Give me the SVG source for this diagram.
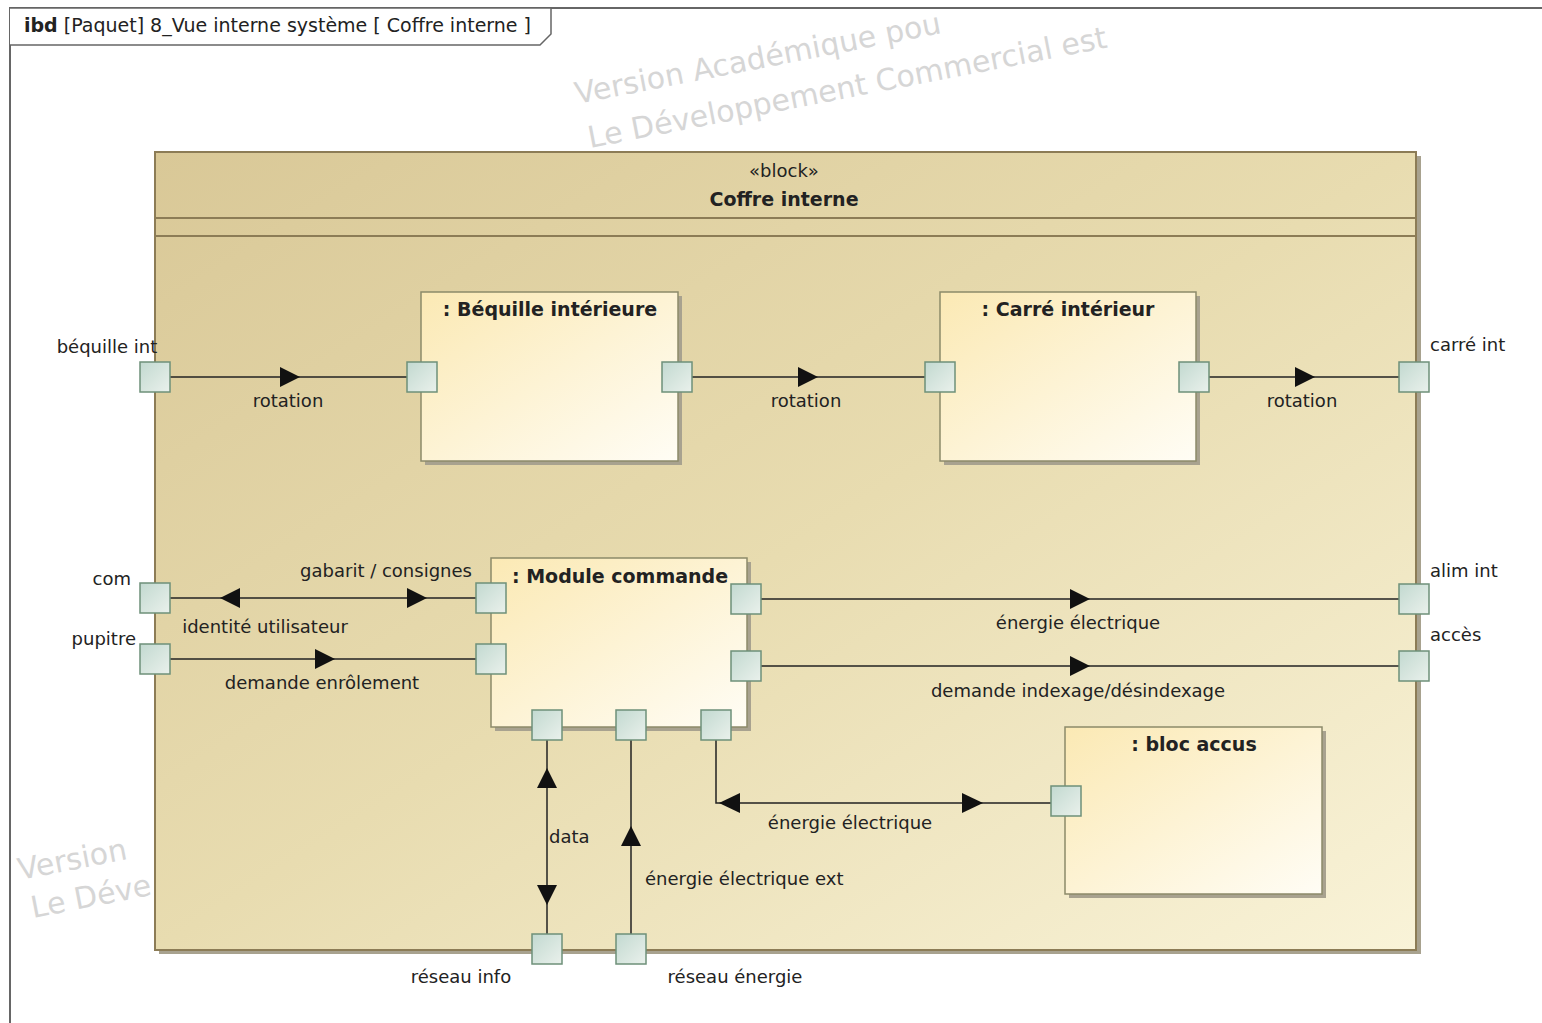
<svg xmlns="http://www.w3.org/2000/svg" width="1542" height="1023" viewBox="0 0 1542 1023">
<style>
.lbl{font-family:"DejaVu Sans",Tahoma,sans-serif;font-size:18px;fill:#222}
.ttl{font-family:"DejaVu Sans",Tahoma,sans-serif;font-size:19px;font-weight:bold;fill:#222}
.wm{font-family:"DejaVu Sans",sans-serif;font-size:30px;fill:#d6d6d6}
.part{fill:url(#gPart);stroke:#8c8a6a;stroke-width:1.5}
.shadow{fill:#a8a28f}
.port{fill:url(#gPort);stroke:#6e9079;stroke-width:1.5}
.conn{fill:none;stroke:#222;stroke-width:1.5}
.ah{fill:#111}
</style>
<defs>
<linearGradient id="gBlock" x1="0" y1="0" x2="1" y2="1">
<stop offset="0" stop-color="#d9c897"/>
<stop offset="0.5" stop-color="#e8dcb0"/>
<stop offset="1" stop-color="#f9f3d8"/>
</linearGradient>
<linearGradient id="gPart" x1="0" y1="0" x2="1" y2="1">
<stop offset="0" stop-color="#fbe9b4"/>
<stop offset="1" stop-color="#fffdf5"/>
</linearGradient>
<linearGradient id="gPort" x1="0" y1="0" x2="1" y2="1">
<stop offset="0" stop-color="#c2d9d0"/>
<stop offset="1" stop-color="#eaf1ec"/>
</linearGradient>
</defs>
<rect x="0" y="0" width="1542" height="1023" fill="#ffffff"/>
<g id="watermark">
<text class="wm" transform="translate(577,104) rotate(-11)">Version Académique pou</text>
<text class="wm" transform="translate(590,148) rotate(-11)">Le Développement Commercial est</text>
<text class="wm" transform="translate(20,880) rotate(-11)">Version</text>
<text class="wm" transform="translate(33,918) rotate(-11)">Le Déve</text>
</g>
<g id="frame">
<path d="M10,1023 V8 H1542" fill="none" stroke="#666" stroke-width="2"/>
<path d="M10,8 H551 V34 L540,45 H10" fill="#fff" stroke="#666" stroke-width="1.5"/>
<text x="24" y="32" class="lbl" style="font-size:19px"><tspan font-weight="bold">ibd</tspan> [Paquet] 8_Vue interne système [ Coffre interne ]</text>
</g>
<g id="block-coffre-interne">
<rect x="159" y="156" width="1262" height="798" class="shadow"/>
<rect x="155" y="152" width="1261" height="798" fill="url(#gBlock)" stroke="#8c7c56" stroke-width="2"/>
<line x1="155" y1="218" x2="1416" y2="218" stroke="#8c7c56" stroke-width="2"/>
<line x1="155" y1="236" x2="1416" y2="236" stroke="#8c7c56" stroke-width="2"/>
<text x="784" y="177" class="lbl" text-anchor="middle">«block»</text>
<text x="784" y="206" class="ttl" text-anchor="middle">Coffre interne</text>
</g>
<g id="part-bequille">
<rect x="425" y="296" width="257" height="169" class="shadow"/>
<rect x="421" y="292" width="257" height="169" class="part"/>
<text x="550" y="316" class="ttl" text-anchor="middle">: Béquille intérieure</text>
</g>
<g id="part-carre">
<rect x="944" y="296" width="256" height="169" class="shadow"/>
<rect x="940" y="292" width="256" height="169" class="part"/>
<text x="1068" y="316" class="ttl" text-anchor="middle">: Carré intérieur</text>
</g>
<g id="part-module">
<rect x="495" y="562" width="256" height="169" class="shadow"/>
<rect x="491" y="558" width="256" height="169" class="part"/>
<text x="620" y="583" class="ttl" text-anchor="middle">: Module commande</text>
</g>
<g id="part-accus">
<rect x="1069" y="731" width="257" height="167" class="shadow"/>
<rect x="1065" y="727" width="257" height="167" class="part"/>
<text x="1194" y="751" class="ttl" text-anchor="middle">: bloc accus</text>
</g>
<g id="connectors">
<line x1="170" y1="377" x2="407" y2="377" class="conn"/>
<polygon points="280,367 300,377 280,387" class="ah"/>
<text x="288" y="407" class="lbl" text-anchor="middle">rotation</text>
<line x1="692" y1="377" x2="925" y2="377" class="conn"/>
<polygon points="798,367 818,377 798,387" class="ah"/>
<text x="806" y="407" class="lbl" text-anchor="middle">rotation</text>
<line x1="1209" y1="377" x2="1399" y2="377" class="conn"/>
<polygon points="1295,367 1315,377 1295,387" class="ah"/>
<text x="1302" y="407" class="lbl" text-anchor="middle">rotation</text>
<line x1="170" y1="598" x2="476" y2="598" class="conn"/>
<polygon points="240,588 220,598 240,608" class="ah"/>
<polygon points="407,588 427,598 407,608" class="ah"/>
<text x="386" y="577" class="lbl" text-anchor="middle">gabarit / consignes</text>
<text x="265" y="633" class="lbl" text-anchor="middle">identité utilisateur</text>
<line x1="170" y1="659" x2="476" y2="659" class="conn"/>
<polygon points="315,649 335,659 315,669" class="ah"/>
<text x="322" y="689" class="lbl" text-anchor="middle">demande enrôlement</text>
<line x1="761" y1="599" x2="1399" y2="599" class="conn"/>
<polygon points="1070,589 1090,599 1070,609" class="ah"/>
<text x="1078" y="629" class="lbl" text-anchor="middle">énergie électrique</text>
<line x1="761" y1="666" x2="1399" y2="666" class="conn"/>
<polygon points="1070,656 1090,666 1070,676" class="ah"/>
<text x="1078" y="697" class="lbl" text-anchor="middle">demande indexage/désindexage</text>
<polyline points="716,740 716,803 1051,803" class="conn"/>
<polygon points="740,793 719,803 740,813" class="ah"/>
<polygon points="962,793 983,803 962,813" class="ah"/>
<text x="850" y="829" class="lbl" text-anchor="middle">énergie électrique</text>
<line x1="547" y1="740" x2="547" y2="934" class="conn"/>
<polygon points="537,788 547,768 557,788" class="ah"/>
<polygon points="537,885 547,905 557,885" class="ah"/>
<text x="549" y="843" class="lbl">data</text>
<line x1="631" y1="740" x2="631" y2="934" class="conn"/>
<polygon points="621,846 631,826 641,846" class="ah"/>
<text x="645" y="885" class="lbl">énergie électrique ext</text>
</g>
<g id="ports">
<g id="port-bequille-int"><rect x="140" y="362" width="30" height="30" class="port"/><text x="107" y="353" class="lbl" text-anchor="middle">béquille int</text></g>
<g id="port-bequille-in"><rect x="407" y="362" width="30" height="30" class="port"/></g>
<g id="port-bequille-out"><rect x="662" y="362" width="30" height="30" class="port"/></g>
<g id="port-carre-in"><rect x="925" y="362" width="30" height="30" class="port"/></g>
<g id="port-carre-out"><rect x="1179" y="362" width="30" height="30" class="port"/></g>
<g id="port-carre-int"><rect x="1399" y="362" width="30" height="30" class="port"/><text x="1430" y="351" class="lbl">carré int</text></g>
<g id="port-com"><rect x="140" y="583" width="30" height="30" class="port"/><text x="131" y="585" class="lbl" text-anchor="end">com</text></g>
<g id="port-pupitre"><rect x="140" y="644" width="30" height="30" class="port"/><text x="136" y="645" class="lbl" text-anchor="end">pupitre</text></g>
<g id="port-module-com"><rect x="476" y="583" width="30" height="30" class="port"/></g>
<g id="port-module-pupitre"><rect x="476" y="644" width="30" height="30" class="port"/></g>
<g id="port-module-alim"><rect x="731" y="584" width="30" height="30" class="port"/></g>
<g id="port-module-acces"><rect x="731" y="651" width="30" height="30" class="port"/></g>
<g id="port-module-data"><rect x="532" y="710" width="30" height="30" class="port"/></g>
<g id="port-module-ext"><rect x="616" y="710" width="30" height="30" class="port"/></g>
<g id="port-module-accus"><rect x="701" y="710" width="30" height="30" class="port"/></g>
<g id="port-alim-int"><rect x="1399" y="584" width="30" height="30" class="port"/><text x="1430" y="577" class="lbl">alim int</text></g>
<g id="port-acces"><rect x="1399" y="651" width="30" height="30" class="port"/><text x="1430" y="641" class="lbl">accès</text></g>
<g id="port-accus"><rect x="1051" y="786" width="30" height="30" class="port"/></g>
<g id="port-reseau-info"><rect x="532" y="934" width="30" height="30" class="port"/><text x="461" y="983" class="lbl" text-anchor="middle">réseau info</text></g>
<g id="port-reseau-energie"><rect x="616" y="934" width="30" height="30" class="port"/><text x="735" y="983" class="lbl" text-anchor="middle">réseau énergie</text></g>
</g>
</svg>
